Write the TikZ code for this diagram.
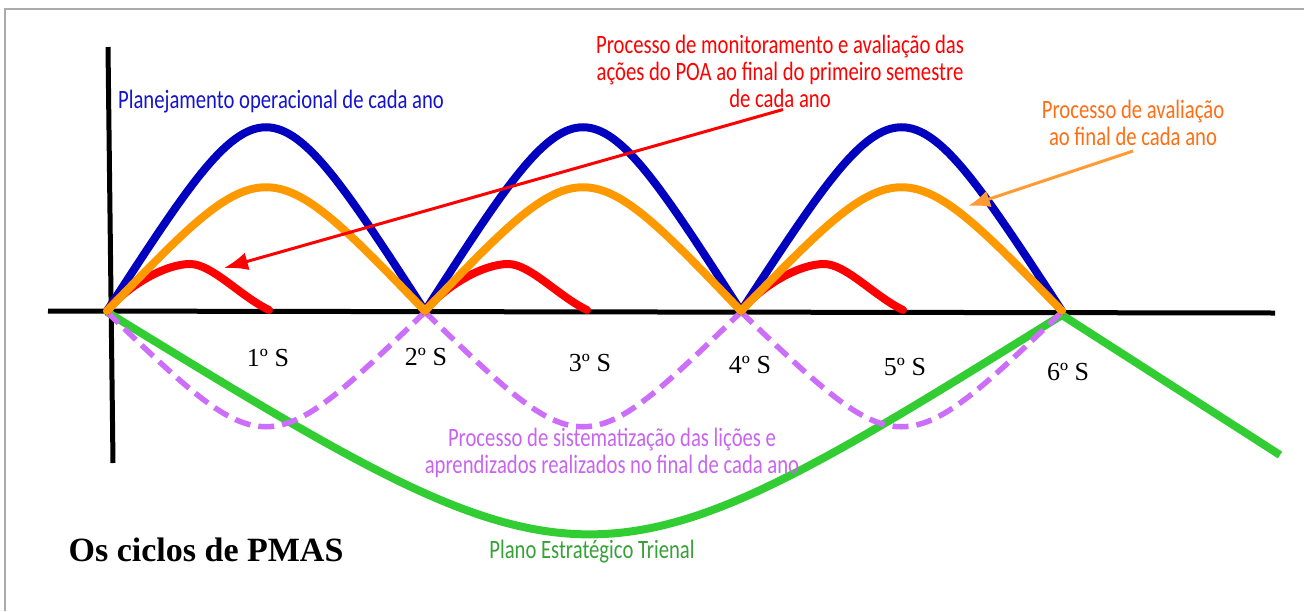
\documentclass[tikz,border=0pt]{standalone}
\usepackage{fontspec}
\newfontfamily\handfont[FakeStretch=0.78]{Carlito}
\newfontfamily\semfont{Liberation Serif}
\usetikzlibrary{arrows.meta}
\definecolor{arcblue}{RGB}{0,0,190}
\definecolor{arcorange}{RGB}{255,153,0}
\definecolor{arcpurple}{RGB}{204,110,250}
\definecolor{arcgreen}{RGB}{50,205,50}
\definecolor{txtblue}{RGB}{20,20,205}
\definecolor{txtorange}{RGB}{255,110,20}
\definecolor{txtpurple}{RGB}{200,100,240}
\definecolor{txtgreen}{RGB}{55,160,55}
\definecolor{ptrorange}{RGB}{255,155,50}

\begin{document}
\begin{tikzpicture}[x=1pt,y=-1pt,>=Latex,
 axis/.style={line width=5pt,black},
 arc/.style={line width=8pt,line cap=round},
 hand/.style={font=\handfont\fontsize{26.5}{27}\selectfont,align=center,inner sep=0pt},
 sem/.style={font=\semfont\fontsize{26}{28}\selectfont,inner sep=0pt}]
\useasboundingbox (0,0) rectangle (1304,611);
\draw[line width=2pt,black!33] (5,611)--(5,8.5)--(1304,8.5);
% axes
\draw[axis] (108,47)--(113,463);
\draw[axis] (48,311)--(1275,313);
% plano trienal and semester cycles
\draw[arc,arcgreen,line cap=butt] (107,312) .. controls (590,608) .. (1062,315)--(1280,455);
\foreach \a/\b in {107/425,425/741,741/1062}
 \draw[line width=5.5pt,arcpurple,dash pattern=on 16pt off 8pt] (\a,312) .. controls ({(\a+\b)/2},465) .. (\b,312);
\foreach \a/\b in {107/425,425/741,741/1062}
 \draw[arc,arcblue] (\a,311) .. controls ({(\a+\b)/2},66) .. (\b,311);
\foreach \a in {107,425,741}
 \draw[arc,red] (\a,311) .. controls (\a+20,286) and (\a+58,264) .. (\a+83,264)
  .. controls (\a+105,264) and (\a+133,296) .. (\a+162,310);
\foreach \a/\b in {107/425,425/741,741/1062}
 \draw[arc,arcorange] (\a,311) .. controls ({(\a+\b)/2},146) .. (\b,311);
% labels
\node[hand,text=txtblue] (plan) at (281,102) {Planejamento operacional de cada ano};
\node[hand,text=red] (monit) at (780,71) {Processo de monitoramento e avaliação das\\ações do POA ao final do primeiro semestre\\de cada ano};
\node[hand,text=txtorange] (aval) at (1133,123) {Processo de avaliação\\ao final de cada ano};
\node[hand,text=txtpurple] (sist) at (612,453) {Processo de sistematização das lições e\\aprendizados realizados no final de cada ano};
\node[hand,text=txtgreen] (trienal) at (592,552) {Plano Estratégico Trienal};
\node[font=\semfont\bfseries\fontsize{34}{36}\selectfont,inner sep=0pt] (titulo) at (206,550) {Os ciclos de PMAS};
\foreach \n/\x/\y in {1/268/358,2/426/357,3/590/363,4/750/365,5/905/367,6/1068/372}
 \node[sem] (sem\n) at (\x,\y) {\n{}º S};
\coordinate (redtip) at (224,268);
\coordinate (orgtip) at (968,206);
\draw[line width=3pt,red,-{Latex[length=24pt,width=18pt]}] ([xshift=3pt,yshift=-2pt]monit.south)--(redtip);
\draw[line width=3pt,ptrorange,-{Latex[length=22pt,width=17pt]}] ([yshift=-5pt]aval.south)--(orgtip);
\end{tikzpicture}
\end{document}
